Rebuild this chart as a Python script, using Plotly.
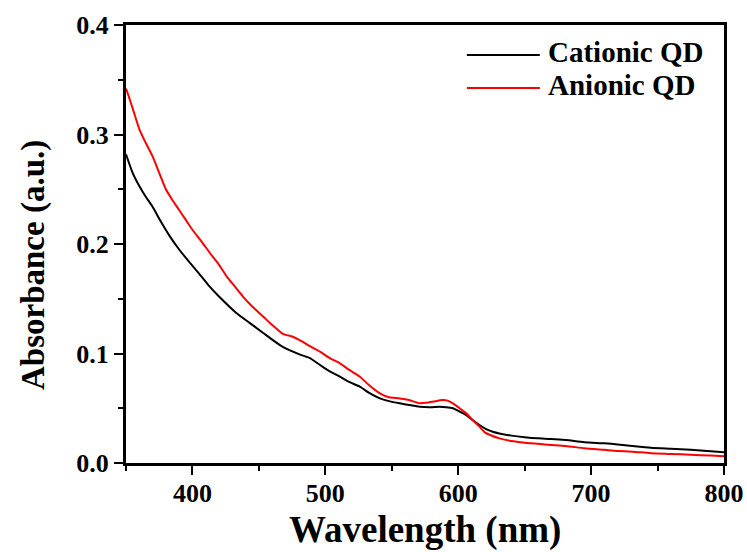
import plotly.graph_objects as go

# UV-vis absorption spectra of the two quantum-dot dispersions
wl_cationic = [350, 355, 360, 365, 370, 375, 383, 390, 398, 405, 413, 420, 433, 443,
               453, 468, 481, 488, 496, 503, 511, 518, 526, 533, 541, 548, 556, 563,
               571, 579, 586, 591, 596, 601, 606, 611, 616, 621, 626, 631, 640, 650,
               660, 670, 681, 695, 710, 720, 731, 745, 760, 775, 790, 800]
abs_cationic = [0.282, 0.265, 0.253, 0.243, 0.234, 0.223, 0.207, 0.195, 0.183, 0.173,
                0.161, 0.152, 0.137, 0.128, 0.119, 0.106, 0.099, 0.096, 0.0895, 0.084,
                0.0788, 0.074, 0.0697, 0.064, 0.059, 0.0565, 0.0545, 0.053, 0.0514,
                0.051, 0.0514, 0.051, 0.050, 0.047, 0.0438, 0.039, 0.0347, 0.031,
                0.0286, 0.027, 0.025, 0.0235, 0.0225, 0.022, 0.021, 0.019, 0.018,
                0.017, 0.0155, 0.014, 0.013, 0.012, 0.0108, 0.0098]

wl_anionic = [350, 352, 355.5, 360, 365, 370, 375, 380, 385, 390, 395, 400, 407, 413,
              420, 426, 432, 438, 445, 453, 460, 468, 475, 481, 488, 496, 503, 511,
              518, 526, 533, 541, 548, 556, 563, 571, 576, 581, 588, 592, 596, 601,
              606, 611, 616, 620, 624, 631, 640, 650, 660, 670, 681, 695, 710, 720,
              731, 745, 760, 775, 790, 800]
abs_anionic = [0.342, 0.335, 0.322, 0.305, 0.292, 0.280, 0.265, 0.250, 0.240, 0.231,
               0.222, 0.213, 0.202, 0.192, 0.181, 0.170, 0.161, 0.152, 0.143, 0.134,
               0.126, 0.118, 0.1155, 0.112, 0.107, 0.1017, 0.096, 0.091, 0.085,
               0.0788, 0.071, 0.0636, 0.060, 0.059, 0.0575, 0.0545, 0.055, 0.056,
               0.0575, 0.057, 0.0545, 0.050, 0.0454, 0.039, 0.0332, 0.028, 0.0256,
               0.0225, 0.020, 0.0185, 0.0175, 0.0165, 0.0155, 0.0135, 0.012, 0.011,
               0.0103, 0.009, 0.0083, 0.0075, 0.0068, 0.0062]

series_names = ["Cationic QD", "Anionic QD"]
series_colors = ["#000000", "#ff0000"]

x_ticks = [400, 500, 600, 700, 800]
y_ticks = [0.0, 0.1, 0.2, 0.3, 0.4]

FONT = "Liberation Serif"

fig = go.Figure()
for x, y, name, color in zip([wl_cationic, wl_anionic], [abs_cationic, abs_anionic],
                             series_names, series_colors):
    fig.add_trace(go.Scatter(x=x, y=y, mode="lines", name=name, showlegend=False,
                             line=dict(color=color, width=2, shape="spline",
                                       smoothing=0.6)))

# Legend drawn as line samples with labels, stacked at the upper right
leg_x0, leg_x1, leg_tx = 0.570, 0.692, 0.703
leg_rows = [0.9315, 0.856]
for name, color, yy in zip(series_names, series_colors, leg_rows):
    fig.add_shape(type="line", xref="paper", yref="paper", x0=leg_x0, x1=leg_x1,
                  y0=yy, y1=yy, line=dict(color=color, width=2))
    fig.add_annotation(xref="paper", yref="paper", x=leg_tx, y=yy + 0.006, text=name,
                       showarrow=False, xanchor="left", yanchor="middle",
                       font=dict(family=FONT, size=29, color="black"))

# Vertical axis title, set slightly below the plot's mid-height
fig.add_annotation(xref="paper", yref="paper", x=-0.1555, y=0.452,
                   text="<b>Absorbance (a.u.)</b>", textangle=-90, showarrow=False,
                   xanchor="center", yanchor="middle",
                   font=dict(family=FONT, size=33, color="black"))

# Horizontal axis title below the tick labels
fig.add_annotation(xref="paper", yref="paper", x=0.5, y=-0.152,
                   text="<b>Wavelength (nm)</b>", showarrow=False,
                   xanchor="center", yanchor="middle",
                   font=dict(family=FONT, size=37, color="black"))

axis_common = dict(
    showgrid=False, zeroline=False, showline=True, linecolor="black", linewidth=3,
    mirror=True, ticks="outside", ticklen=9, tickwidth=2, tickcolor="black",
    tickfont=dict(family=FONT, size=26, color="black"), automargin=False,
)

fig.update_xaxes(
    range=[350, 800], tickvals=x_ticks, ticktext=[str(v) for v in x_ticks],
    ticklabelstandoff=-4,
    minor=dict(dtick=50, tick0=350, ticks="outside", ticklen=5, tickwidth=2,
               tickcolor="black"),
    **axis_common)
fig.update_yaxes(
    range=[0, 0.4], tickvals=y_ticks, ticktext=[f"{v:.1f}" for v in y_ticks],
    minor=dict(dtick=0.05, tick0=0, ticks="outside", ticklen=5, tickwidth=2,
               tickcolor="black"),
    **axis_common)

fig.update_layout(
    width=747, height=552, margin=dict(l=126, r=23, t=25, b=89),
    paper_bgcolor="white", plot_bgcolor="white",
    font=dict(family=FONT, size=26, color="black", weight="bold"),
)

fig.write_html("out.html")
